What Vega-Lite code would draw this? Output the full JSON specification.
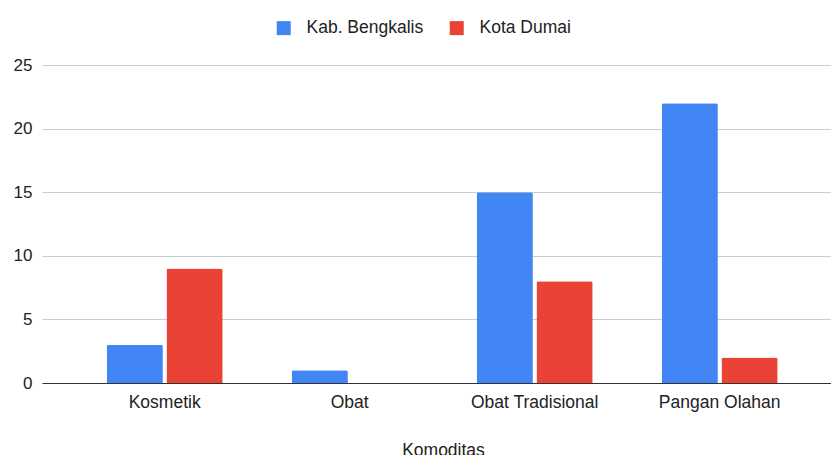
{
  "$schema": "https://vega.github.io/schema/vega-lite/v6.json",
  "autosize": "none",
  "padding": {"left": 42, "top": 65, "right": 0, "bottom": 72},
  "width": 789,
  "height": 318,
  "background": "white",
  "config": {
    "view": {"stroke": null},
    "font": "Liberation Sans"
  },
  "data": {
    "values": [
      {"Komoditas": "Kosmetik", "Wilayah": "Kab. Bengkalis", "Jumlah": 3},
      {"Komoditas": "Kosmetik", "Wilayah": "Kota Dumai", "Jumlah": 9},
      {"Komoditas": "Obat", "Wilayah": "Kab. Bengkalis", "Jumlah": 1},
      {"Komoditas": "Obat", "Wilayah": "Kota Dumai", "Jumlah": 0},
      {"Komoditas": "Obat Tradisional", "Wilayah": "Kab. Bengkalis", "Jumlah": 15},
      {"Komoditas": "Obat Tradisional", "Wilayah": "Kota Dumai", "Jumlah": 8},
      {"Komoditas": "Pangan Olahan", "Wilayah": "Kab. Bengkalis", "Jumlah": 22},
      {"Komoditas": "Pangan Olahan", "Wilayah": "Kota Dumai", "Jumlah": 2}
    ]
  },
  "mark": {"type": "bar", "cornerRadiusTopLeft": 2, "cornerRadiusTopRight": 2},
  "encoding": {
    "x": {
      "field": "Komoditas", "type": "nominal", "sort": null,
      "scale": {"paddingInner": 0.373, "paddingOuter": 0.319, "align": 0.548},
      "axis": {
        "labelAngle": 0, "labelFontSize": 17.5, "labelColor": "#222222", "labelPadding": 10,
        "ticks": false, "domainColor": "#333333", "domainWidth": 1.2,
        "title": "Komoditas", "titleFontSize": 17.5, "titleFontWeight": "normal", "titleColor": "#222222", "titlePadding": 31,
        "titleX": 401, "titleAlign": "center", "titleAnchor": null
      }
    },
    "xOffset": {
      "field": "Wilayah", "type": "nominal",
      "scale": {"paddingInner": 0.06, "paddingOuter": 0}
    },
    "y": {
      "field": "Jumlah", "type": "quantitative",
      "scale": {"domain": [0, 25], "nice": false},
      "axis": {
        "values": [0, 5, 10, 15, 20, 25], "title": null, "domain": false, "ticks": false,
        "labelFontSize": 17, "labelColor": "#222222", "labelPadding": 10,
        "gridColor": "#cccccc", "gridWidth": 1
      }
    },
    "color": {
      "field": "Wilayah", "type": "nominal",
      "scale": {"domain": ["Kab. Bengkalis", "Kota Dumai"], "range": ["#4285F4", "#EA4335"]},
      "legend": {
        "title": null, "orient": "none", "direction": "horizontal",
        "legendX": 233, "legendY": -46,
        "symbolType": "square", "symbolSize": 196, "symbolStrokeWidth": 0,
        "labelFontSize": 17.5, "labelColor": "#222222", "labelOffset": 14, "columnPadding": 24
      }
    }
  }
}
